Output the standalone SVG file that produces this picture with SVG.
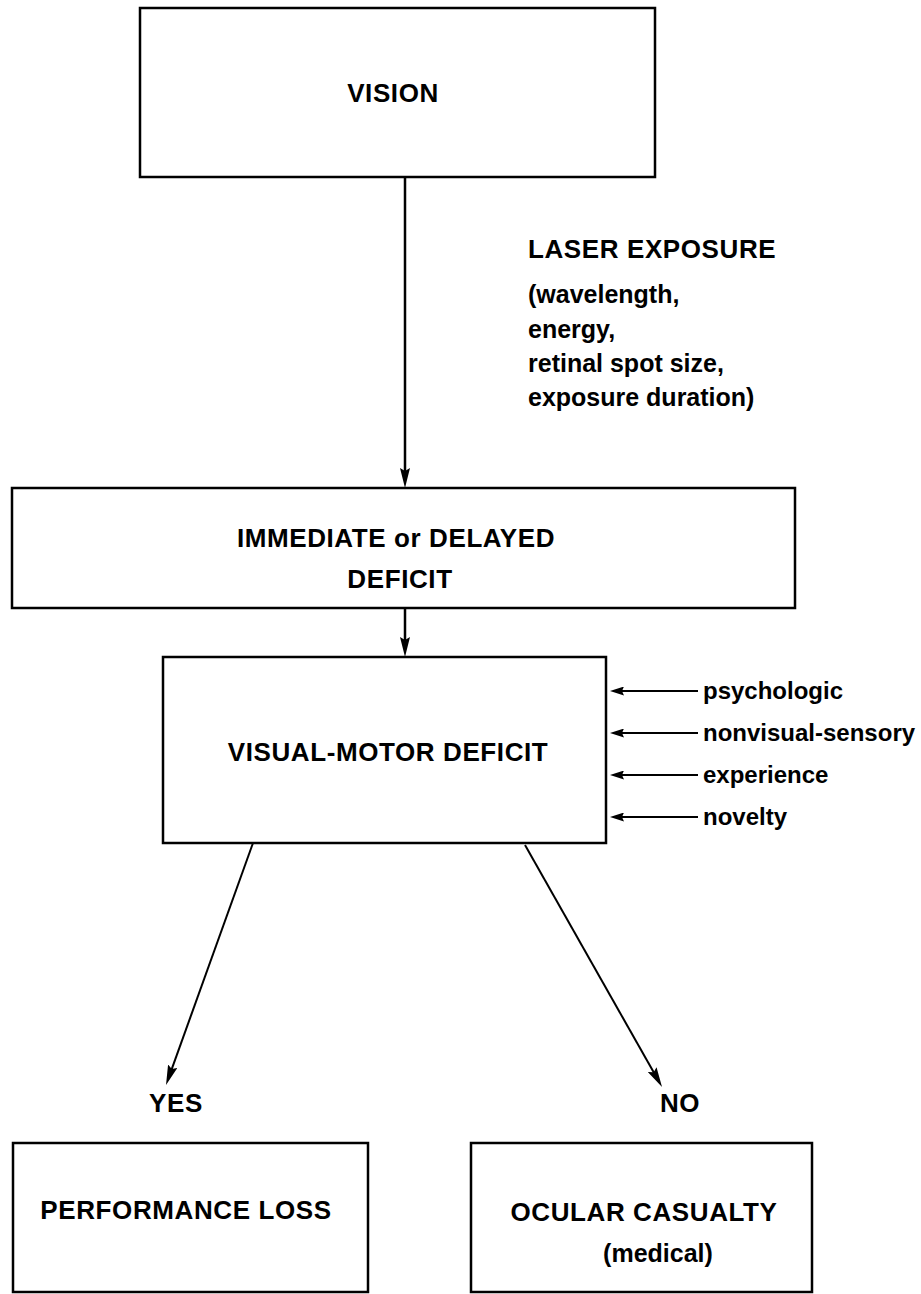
<svg xmlns="http://www.w3.org/2000/svg" width="921" height="1294" viewBox="0 0 921 1294">
<style>
.box{fill:#fff;stroke:#000;stroke-width:2.5}
.t{font-family:"Liberation Sans",Arial,sans-serif;font-weight:bold;font-size:25px;fill:#000}
.h{font-size:26px;letter-spacing:0.6px}
.c{text-anchor:middle}
.s{font-size:24px}
.ln{stroke:#000;stroke-width:2.5;fill:none}
.ln2{stroke:#000;stroke-width:2;fill:none}
</style>
<defs>
<marker id="ah" viewBox="0 0 20 10" refX="10" refY="5" markerWidth="20" markerHeight="10" markerUnits="userSpaceOnUse" orient="auto">
<path d="M0,0 L20,5 L0,10 L3,5 z" fill="#000"/>
</marker>
<marker id="ahs" viewBox="0 0 14 9" refX="8" refY="4.5" markerWidth="14" markerHeight="9" markerUnits="userSpaceOnUse" orient="auto">
<path d="M0,0 L14,4.5 L0,9 L2,4.5 z" fill="#000"/>
</marker>
</defs>
<rect width="921" height="1294" fill="#fff"/>
<g id="connectors">
<line class="ln" x1="405" y1="177" x2="405" y2="478" marker-end="url(#ah)"/>
<line class="ln" x1="405" y1="608" x2="405" y2="647" marker-end="url(#ah)"/>
<line class="ln2" x1="253" y1="843" x2="169.4" y2="1075.6" marker-end="url(#ah)"/>
<line class="ln2" x1="525" y1="845" x2="657.1" y2="1078.3" marker-end="url(#ah)"/>
<line class="ln2" x1="698" y1="691" x2="616" y2="691" marker-end="url(#ahs)"/>
<line class="ln2" x1="698" y1="733" x2="616" y2="733" marker-end="url(#ahs)"/>
<line class="ln2" x1="698" y1="775" x2="616" y2="775" marker-end="url(#ahs)"/>
<line class="ln2" x1="698" y1="817" x2="616" y2="817" marker-end="url(#ahs)"/>
</g>
<g id="laser-label">
<text class="t h" x="528" y="258">LASER EXPOSURE</text>
<text class="t" x="528" y="303">(wavelength,</text>
<text class="t" x="528" y="338">energy,</text>
<text class="t" x="528" y="372">retinal spot size,</text>
<text class="t" x="528" y="406">exposure duration)</text>
</g>
<g id="vision">
<rect class="box" x="140" y="8" width="515" height="169"/>
<text class="t h c" x="393" y="102">VISION</text>
</g>
<g id="immediate">
<rect class="box" x="12" y="488" width="783" height="120"/>
<text class="t h c" x="396" y="547">IMMEDIATE or DELAYED</text>
<text class="t h c" x="400" y="588">DEFICIT</text>
</g>
<g id="visual-motor">
<rect class="box" x="163" y="657" width="443" height="186"/>
<text class="t h c" x="388" y="761">VISUAL-MOTOR DEFICIT</text>
</g>
<g id="factors">
<text class="t s" x="703" y="699">psychologic</text>
<text class="t s" x="703" y="741">nonvisual-sensory</text>
<text class="t s" x="703" y="783">experience</text>
<text class="t s" x="703" y="825">novelty</text>
</g>
<g id="yes">
<text class="t h c" x="176" y="1112">YES</text>
</g>
<g id="no">
<text class="t h c" x="680" y="1112">NO</text>
</g>
<g id="performance-loss">
<rect class="box" x="13" y="1143" width="355" height="149"/>
<text class="t h c" x="186" y="1219">PERFORMANCE LOSS</text>
</g>
<g id="ocular-casualty">
<rect class="box" x="471" y="1143" width="341" height="149"/>
<text class="t h c" x="644" y="1221">OCULAR CASUALTY</text>
<text class="t c" x="658" y="1262">(medical)</text>
</g>
</svg>
